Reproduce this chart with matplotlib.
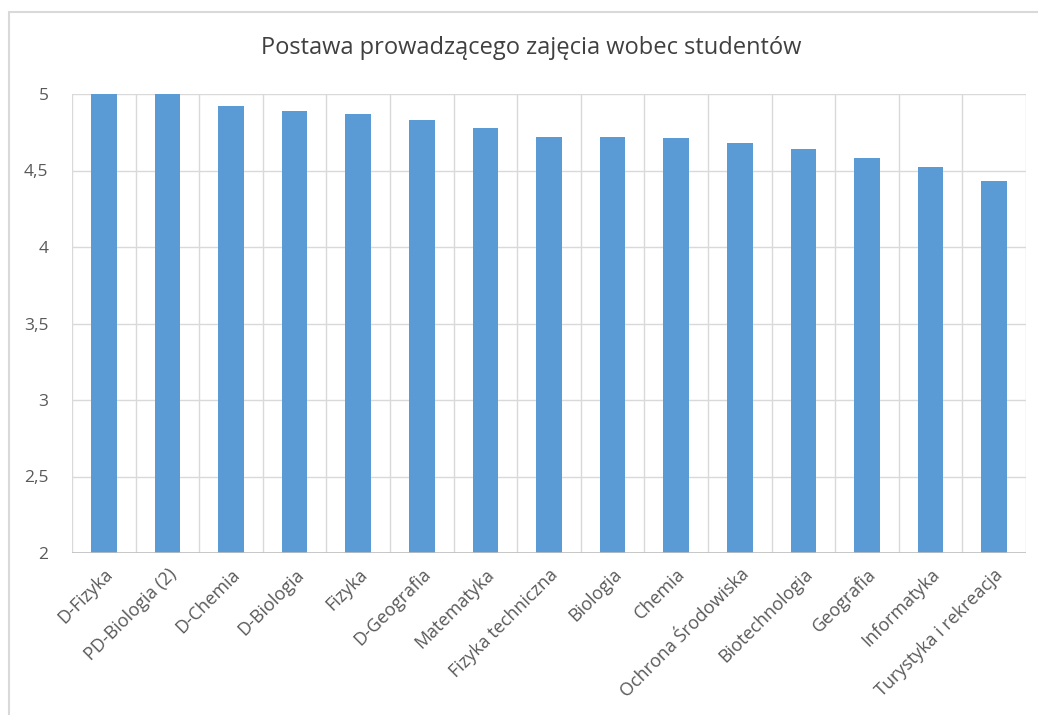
import numpy as np
import matplotlib.pyplot as plt
import matplotlib.patches as patches

plt.rcParams['font.family'] = ['Open Sans', 'DejaVu Sans']

categories = ['D-Fizyka', 'PD-Biologia (2)', 'D-Chemia', 'D-Biologia', 'Fizyka',
              'D-Geografia', 'Matematyka', 'Fizyka techniczna', 'Biologia', 'Chemia',
              'Ochrona Środowiska', 'Biotechnologia', 'Geografia', 'Informatyka',
              'Turystyka i rekreacja']
values = [5.0, 5.0, 4.92, 4.89, 4.87, 4.83, 4.78, 4.72, 4.72, 4.71,
          4.68, 4.64, 4.58, 4.52, 4.43]
yticks = [2, 2.5, 3, 3.5, 4, 4.5, 5]
ytick_labels = ['2', '2,5', '3', '3,5', '4', '4,5', '5']
title = 'Postawa prowadzącego zajęcia wobec studentów'

W, H = 1038, 715
fig = plt.figure(figsize=(W / 100, H / 100), dpi=100)

# Chart-area border (only top and left edges visible in the crop).
border = patches.Rectangle((9 / W, -0.05), 1.1, (H - 12) / H + 0.05,
                           transform=fig.transFigure, fill=False,
                           edgecolor='#d9d9d9', lw=1.5)
fig.patches.append(border)

ax = fig.add_axes([72 / W, (H - 553) / H, (1026 - 72) / W, (553 - 94) / H])

x = np.arange(len(categories))
ax.bar(x, values, width=0.4, bottom=0, color='#5b9bd5', zorder=3)

ax.set_ylim(2, 5)
ax.set_xlim(-0.5, len(categories) - 0.5)
ax.set_yticks(yticks)
ax.set_yticklabels(ytick_labels)
ax.set_xticks(x)
ax.set_xticklabels(categories, rotation=45, ha='right', rotation_mode='anchor')

# Gridlines: horizontal at ticks, vertical at category boundaries.
for y in yticks:
    ax.axhline(y, color='#d9d9d9', lw=1, zorder=1)
for b in np.arange(len(categories) + 1) - 0.5:
    ax.axvline(b, color='#d9d9d9', lw=1, zorder=1)

for s in ax.spines.values():
    s.set_visible(False)
ax.axhline(2, color='#bfbfbf', lw=1.2, zorder=4)

ax.tick_params(axis='both', length=0, colors='#595959')
ax.tick_params(axis='y', pad=17, labelsize=12.5)
ax.tick_params(axis='x', pad=9, labelsize=13)

fig.text(531 / W, 1 - 48 / H, title, ha='center', va='center',
         fontsize=17, color='#404040')

fig.savefig('out.png', dpi=100)
